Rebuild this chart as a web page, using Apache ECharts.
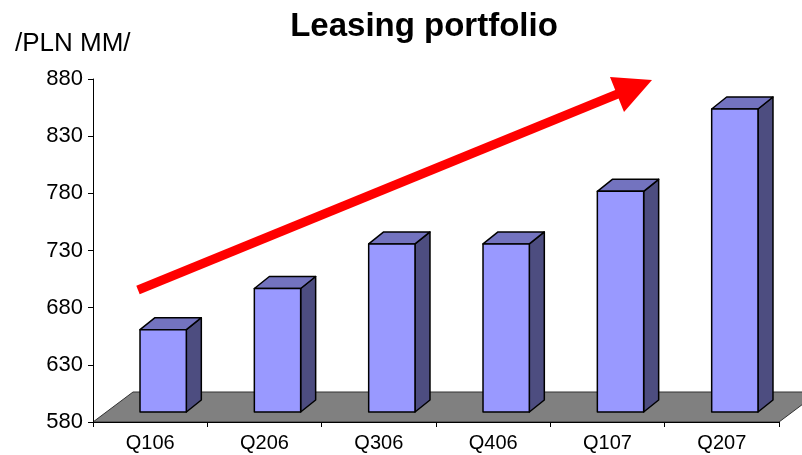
<!DOCTYPE html>
<html>
<head>
<meta charset="utf-8">
<script src="https://cdn.jsdelivr.net/npm/echarts@6/dist/echarts.min.js"></script>
<style>
  html, body { margin: 0; padding: 0; background: #fff; }
  #chart { width: 802px; height: 455px; }
</style>
</head>
<body>
<div id="chart"></div>
<script>
// Quarterly leasing portfolio, PLN million
const quarters = ['Q106', 'Q206', 'Q306', 'Q406', 'Q107', 'Q207'];
const portfolio = [652, 688, 727, 727, 773, 845];
const yTicks = [580, 630, 680, 730, 780, 830, 880];

const FONT = '"Liberation Sans", Arial, sans-serif';
const Y_MIN = yTicks[0];
const Y_MAX = yTicks[yTicks.length - 1];

// oblique depth of the floor and of each column (pixels)
const FLOOR_DX = 40, FLOOR_DY = -30;
const BAR_OFF_DX = 13, BAR_OFF_DY = -10;
const BAR_DX = 15, BAR_DY = -12;
const BAR_WIDTH_RATIO = 0.405;

const FRONT = '#9999ff';
const SIDE = '#4d4d80';
const TOP = '#7373bf';

const chart = echarts.init(document.getElementById('chart'), null, { renderer: 'canvas' });

function renderFloor(params, api) {
  const cs = params.coordSys;
  const x0 = cs.x, x1 = cs.x + cs.width, y0 = cs.y + cs.height;
  return {
    type: 'polygon',
    shape: {
      points: [[x0, y0], [x1, y0], [x1 + FLOOR_DX, y0 + FLOOR_DY], [x0 + FLOOR_DX, y0 + FLOOR_DY]]
    },
    style: { fill: '#808080', stroke: '#333', lineWidth: 1 }
  };
}

function renderBar(params, api) {
  const idx = api.value(0);
  const top = api.coord([idx, api.value(1)]);
  const base = api.coord([idx, Y_MIN]);
  const band = api.size([1, 0])[0];
  const w = band * BAR_WIDTH_RATIO;
  const xl = top[0] + BAR_OFF_DX - w / 2;
  const xr = xl + w;
  const yt = top[1] + BAR_OFF_DY;
  const yb = base[1] + BAR_OFF_DY;
  const edge = { stroke: '#000', lineWidth: 1.5, lineJoin: 'round' };
  return {
    type: 'group',
    children: [
      {
        type: 'polygon',
        shape: { points: [[xr, yb], [xr + BAR_DX, yb + BAR_DY], [xr + BAR_DX, yt + BAR_DY], [xr, yt]] },
        style: Object.assign({ fill: SIDE }, edge)
      },
      {
        type: 'polygon',
        shape: { points: [[xl, yt], [xr, yt], [xr + BAR_DX, yt + BAR_DY], [xl + BAR_DX, yt + BAR_DY]] },
        style: Object.assign({ fill: TOP }, edge)
      },
      {
        type: 'rect',
        shape: { x: xl, y: yt, width: w, height: yb - yt },
        style: Object.assign({ fill: FRONT }, edge)
      }
    ]
  };
}

chart.setOption({
  animation: false,
  backgroundColor: '#fff',
  grid: { left: 93, right: 23, top: 79, bottom: 33, containLabel: false },
  xAxis: {
    type: 'category',
    data: quarters,
    boundaryGap: true,
    axisLine: { show: true, lineStyle: { color: '#000', width: 1 } },
    axisTick: { show: true, alignWithLabel: false, length: 5, lineStyle: { color: '#000' } },
    axisLabel: { color: '#000', fontSize: 20, fontFamily: FONT, margin: 11 },
    splitLine: { show: false },
    z: 10
  },
  yAxis: {
    type: 'value',
    min: Y_MIN,
    max: Y_MAX,
    interval: 50,
    axisLine: { show: true, lineStyle: { color: '#000', width: 1 } },
    axisTick: { show: true, length: 5, lineStyle: { color: '#000' } },
    axisLabel: { color: '#000', fontSize: 22, fontFamily: FONT, margin: 10 },
    splitLine: { show: false },
    z: 10
  },
  series: [
    {
      type: 'custom',
      name: 'floor',
      renderItem: renderFloor,
      data: [[0, Y_MIN]],
      silent: true,
      z: 1
    },
    {
      type: 'custom',
      name: 'Leasing portfolio',
      renderItem: renderBar,
      data: portfolio.map((v, i) => [i, v]),
      z: 2
    }
  ],
  graphic: [
    {
      type: 'text',
      x: 424, y: 27,
      style: {
        text: 'Leasing portfolio',
        font: 'bold 33px ' + FONT,
        fill: '#000',
        align: 'center',
        verticalAlign: 'middle'
      }
    },
    {
      type: 'text',
      x: 15, y: 44,
      style: {
        text: '/PLN MM/',
        font: '26px ' + FONT,
        fill: '#000',
        align: 'left',
        verticalAlign: 'middle'
      }
    },
    // trend arrow
    {
      type: 'line',
      shape: { x1: 138, y1: 290, x2: 620, y2: 93 },
      style: { stroke: '#ff0000', lineWidth: 9, lineCap: 'butt' },
      z: 20
    },
    {
      type: 'polygon',
      shape: { points: [[610, 77], [652, 80], [624, 112]] },
      style: { fill: '#ff0000' },
      z: 20
    }
  ]
});
</script>
</body>
</html>
